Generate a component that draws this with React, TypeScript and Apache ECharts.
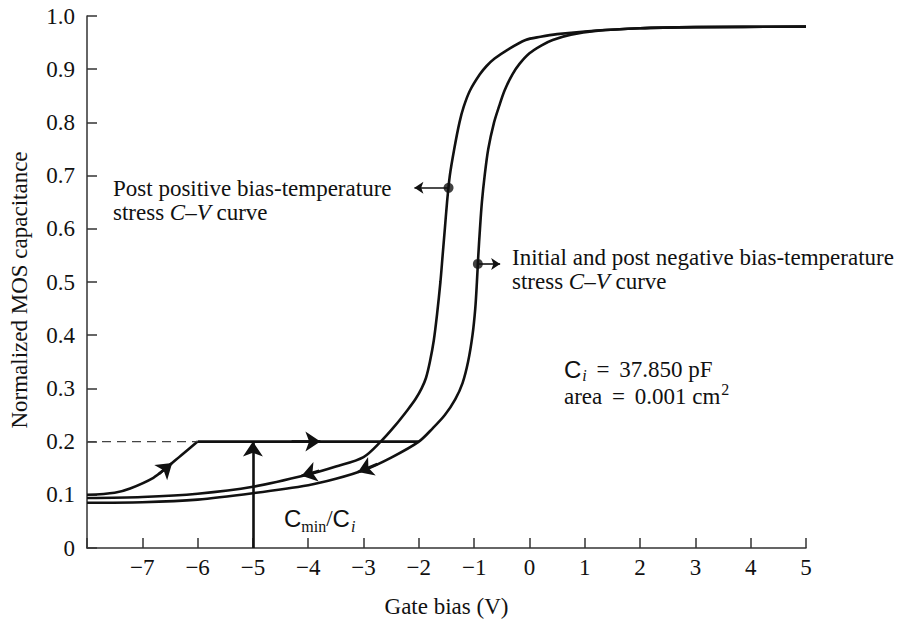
import React, { useEffect, useRef } from "react";
import * as echarts from "echarts";

// Post positive bias-temperature stress C–V curve
const postPosX = [-8, -7, -6, -5, -4, -3.5, -3, -2.69, -2.43, -2.2, -2.06, -1.95, -1.87, -1.8, -1.73, -1.67, -1.61, -1.57, -1.53, -1.49, -1.44, -1.36, -1.265, -1.187, -1.075, -0.9, -0.775, -0.63, -0.39, -0.07, 0.2, 0.5, 1, 2, 3, 5];
const postPosY = [0.094, 0.096, 0.102, 0.115, 0.138, 0.153, 0.171, 0.2, 0.23, 0.26, 0.28, 0.3, 0.32, 0.35, 0.39, 0.44, 0.5, 0.55, 0.6, 0.65, 0.7, 0.75, 0.8, 0.83, 0.86, 0.89, 0.906, 0.92, 0.937, 0.955, 0.961, 0.966, 0.971, 0.977, 0.979, 0.98];

// Initial and post negative bias-temperature stress C–V curve
const initX = [-8, -7, -6, -5, -4, -3.5, -3, -2.5, -2.0, -1.75, -1.53, -1.34, -1.21, -1.11, -1.03, -0.98, -0.95, -0.925, -0.895, -0.86, -0.81, -0.745, -0.64, -0.55, -0.45, -0.31, -0.18, 0.0, 0.22, 0.42, 0.75, 1.2, 2, 3, 5];
const initY = [0.085, 0.086, 0.091, 0.103, 0.118, 0.13, 0.146, 0.17, 0.2, 0.225, 0.25, 0.28, 0.31, 0.35, 0.4, 0.45, 0.5, 0.55, 0.6, 0.65, 0.7, 0.75, 0.8, 0.83, 0.86, 0.89, 0.91, 0.93, 0.945, 0.955, 0.965, 0.972, 0.977, 0.979, 0.98];

// Deep-depletion sweep rising to Cmin/Ci
const sweepX = [-8, -7.5, -7.22, -6.8, -6.56, -6.3, -6.0];
const sweepY = [0.1, 0.104, 0.112, 0.132, 0.151, 0.174, 0.2];

// Cmin/Ci level
const flatX = [-6, -2];
const flatY = [0.2, 0.2];
const dashedX = [-8, -6];
const dashedY = [0.2, 0.2];
const cminArrowX = [-5, -5];
const cminArrowY = [0, 0.2];

// Arrow segments along curves [x1, y1, x2, y2] (tip at the second point)
const curveArrows = [
  [-6.7, 0.139, -6.46, 0.16],
  [-3.8, 0.145, -4.12, 0.136],
  [-2.75, 0.158, -3.1, 0.143],
  [-4.3, 0.2, -3.78, 0.2],
];

// Marker dots and their pointer arrows
const dotX = [-1.463, -0.933];
const dotY = [0.677, 0.534];
const pointerEndX = [-2.08, -0.53];

const SERIF = '"Liberation Serif", "Times New Roman", serif';
const SANS = '"Liberation Sans", Arial, sans-serif';
const INK = "#111";
const FS = 23;

const fmtX = (v: number) => (v === -8 ? "" : v < 0 ? "\u2212" + Math.abs(v) : String(v));
const fmtY = (v: number) => (Math.abs(v) < 1e-9 ? "0" : v.toFixed(1));

const zip = (xs: number[], ys: number[]) => xs.map((x, i) => [x, ys[i]]);

export default function App() {
  const ref = useRef<HTMLDivElement>(null);
  useEffect(() => {
    if (!ref.current) return;
    const chart = echarts.init(ref.current, undefined, { renderer: "svg" });

    const txt = (x: number, y: number, text: string, rich: any, align = "left") => ({
      type: "text",
      x,
      y,
      silent: true,
      style: {
        text,
        rich,
        fill: INK,
        font: `${FS}px ${SERIF}`,
        fontSize: FS,
        fontFamily: SERIF,
        align,
        textAlign: align,
        verticalAlign: "middle",
        textVerticalAlign: "middle",
      },
    });

    const baseRich = {
      n: { fontSize: FS, fontFamily: SERIF, color: INK, lineHeight: 24 },
      eq: { fontSize: FS, fontFamily: SERIF, color: INK, lineHeight: 24, padding: [0, 4, 0, 4] },
      i: { fontSize: FS, fontFamily: SERIF, fontStyle: "italic", color: INK, lineHeight: 24 },
      c: { fontSize: 24, fontFamily: SANS, color: INK, lineHeight: 24 },
      sub: { fontSize: 16, fontFamily: SERIF, color: INK, lineHeight: 8, padding: [17, 0, 0, 0] },
      subi: { fontSize: 16, fontFamily: SERIF, fontStyle: "italic", color: INK, lineHeight: 8, padding: [17, 0, 0, 1] },
      subi2: { fontSize: 16, fontFamily: SERIF, fontStyle: "italic", color: INK, lineHeight: 8, padding: [13, 0, 0, 1] },
      sup: { fontSize: 16, fontFamily: SERIF, color: INK, lineHeight: 8, padding: [0, 0, 13, 1] },
    };

    const option: any = {
      animation: false,
      backgroundColor: "#fff",
      grid: { left: 83, right: 94, top: 16, bottom: 68, containLabel: false },
      xAxis: {
        type: "value",
        min: -8,
        max: 5,
        interval: 1,
        name: "Gate bias (V)",
        nameLocation: "middle",
        nameGap: 47,
        nameTextStyle: { fontFamily: SERIF, fontSize: FS, color: INK },
        axisLine: { onZero: false, lineStyle: { color: "#333", width: 1.5 } },
        axisTick: { inside: true, length: 10, lineStyle: { color: "#333", width: 1.5 } },
        axisLabel: { formatter: fmtX, fontFamily: SERIF, fontSize: FS, color: INK, margin: 8 },
        splitLine: { show: false },
      },
      yAxis: {
        type: "value",
        min: 0,
        max: 1,
        interval: 0.1,
        name: "Normalized MOS capacitance",
        nameLocation: "middle",
        nameGap: 56,
        nameTextStyle: { fontFamily: SERIF, fontSize: FS, color: INK, padding: [0, 16, 0, 0] },
        axisLine: { onZero: false, lineStyle: { color: "#333", width: 1.5 } },
        axisTick: { inside: true, length: 10, lineStyle: { color: "#333", width: 1.5 } },
        axisLabel: { formatter: fmtY, fontFamily: SERIF, fontSize: FS, color: INK, margin: 12 },
        splitLine: { show: false },
      },
      series: [
        {
          type: "line",
          name: "postPos",
          data: zip(postPosX, postPosY),
          smooth: 0.3,
          showSymbol: false,
          lineStyle: { color: INK, width: 2.6 },
          silent: true,
        },
        {
          type: "line",
          name: "init",
          data: zip(initX, initY),
          smooth: 0.3,
          showSymbol: false,
          lineStyle: { color: INK, width: 2.6 },
          silent: true,
        },
        {
          type: "line",
          name: "sweep",
          data: zip(sweepX, sweepY),
          smooth: 0.3,
          showSymbol: false,
          lineStyle: { color: INK, width: 2.6 },
          silent: true,
        },
        {
          type: "line",
          name: "dashed",
          data: zip(dashedX, dashedY),
          showSymbol: false,
          lineStyle: { color: "#444", width: 1.4, type: [9, 6] },
          silent: true,
        },
        {
          type: "line",
          name: "flat",
          data: zip(flatX, flatY),
          showSymbol: false,
          lineStyle: { color: INK, width: 2.6 },
          silent: true,
          markLine: {
            silent: true,
            symbol: ["none", "arrow"],
            symbolSize: 15,
            label: { show: false },
            lineStyle: { color: INK, width: 2.6, type: "solid" },
            emphasis: { disabled: true },
            data: [
              [{ coord: [cminArrowX[0], cminArrowY[0]] }, { coord: [cminArrowX[1], cminArrowY[1]] }],
              ...curveArrows.map((a) => [{ coord: [a[0], a[1]] }, { coord: [a[2], a[3]] }]),
            ],
          },
        },
        {
          type: "scatter",
          name: "dots",
          data: zip(dotX, dotY),
          symbol: "circle",
          symbolSize: 10,
          itemStyle: { color: INK },
          silent: true,
          z: 5,
          markLine: {
            silent: true,
            symbol: ["none", "arrow"],
            symbolSize: 9,
            label: { show: false },
            lineStyle: { color: INK, width: 1.6, type: "solid" },
            emphasis: { disabled: true },
            data: dotX.map((x, i) => [{ coord: [x, dotY[i]] }, { coord: [pointerEndX[i], dotY[i]] }]),
          },
        },
      ],
      graphic: [
        txt(113, 188, "{n|Post positive bias-temperature}", baseRich),
        txt(113, 212, "{n|stress }{i|C–V}{n| curve}", baseRich),
        txt(512, 257, "{n|Initial and post negative bias-temperature}", baseRich),
        txt(512, 281, "{n|stress }{i|C–V}{n| curve}", baseRich),
        txt(564, 369, "{c|C}{subi2|i}{n| }{eq|=}{n| 37.850 pF}", baseRich),
        txt(564, 396, "{n|area }{eq|=}{n| 0.001 cm}{sup|2}", baseRich),
        txt(284, 518, "{c|C}{sub|min}{n|/}{c|C}{subi|i}", baseRich),
      ],
    };
    chart.setOption(option);
    return () => chart.dispose();
  }, []);
  return (
    <div
      ref={ref}
      style={{ position: "fixed", left: 0, top: 0, width: 900, height: 623, background: "#fff" }}
    />
  );
}
